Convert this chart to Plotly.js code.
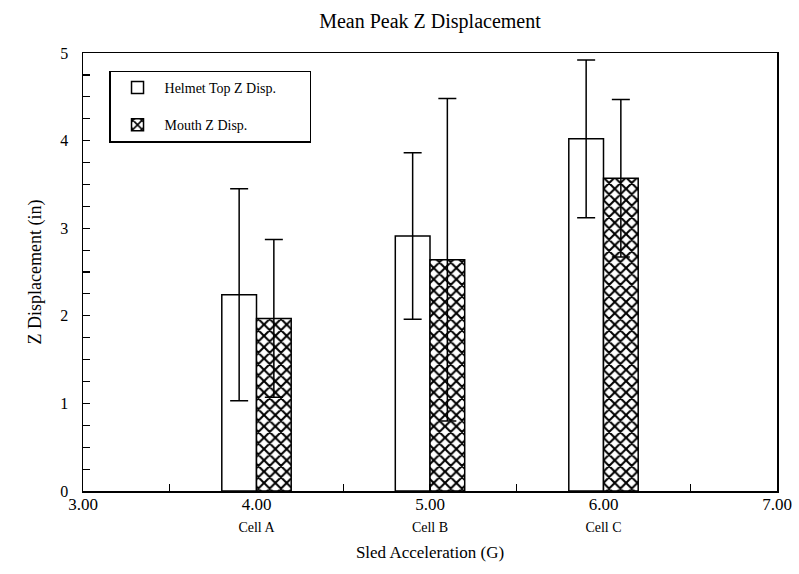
<!DOCTYPE html>
<html>
<head>
<meta charset="utf-8">
<script src="https://cdn.plot.ly/plotly-3.0.1.min.js"></script>
<style>html,body{margin:0;padding:0;background:#fff;}#chart{width:799px;height:574px;}</style>
</head>
<body>
<div id="chart"></div>
<script>
// Data
const accel = [4, 5, 6];
const cells = ["Cell A", "Cell B", "Cell C"];
const seriesNames = ["Helmet Top Z Disp.", "Mouth Z Disp."];
const helmetMean = [2.24, 2.91, 4.02];
const helmetErr = [1.21, 0.95, 0.90];
const mouthMean = [1.97, 2.64, 3.57];
const mouthErr = [0.90, 1.84, 0.90];
const xTickVals = [3, 3.5, 4, 4.5, 5, 5.5, 6, 6.5, 7];
const xTickMain = ["3.00", "", "4.00", "", "5.00", "", "6.00", "", "7.00"];

const serif = "Liberation Serif, Times New Roman, serif";
const legendPad = "\u00a0".repeat(8);

const xTickText = xTickVals.map((v, i) => {
  const idx = accel.indexOf(v);
  if (idx >= 0) return xTickMain[i] + "<br><span style='font-size:14px'>" + cells[idx] + "</span>";
  return xTickMain[i];
});

const traces = [
  {
    type: "bar", name: seriesNames[0] + legendPad, legendgroup: "a",
    x: accel, y: helmetMean, width: 0.2, offset: -0.2,
    marker: {color: "white", line: {color: "black", width: 1.5}},
    error_y: {type: "data", array: helmetErr, visible: true, color: "black", thickness: 1.5, width: 9}
  },
  {
    type: "bar", name: seriesNames[1], legendgroup: "b",
    x: accel, y: mouthMean, width: 0.2, offset: 0,
    marker: {color: "white", line: {color: "black", width: 1.5},
      pattern: {shape: "x", fgcolor: "black", bgcolor: "white", size: 8, solidity: 0.45}},
    error_y: {type: "data", array: mouthErr, visible: true, color: "black", thickness: 1.5, width: 9}
  }
];

const layout = {
  width: 799, height: 574,
  margin: {l: 83, r: 22, t: 53, b: 83},
  paper_bgcolor: "white", plot_bgcolor: "white",
  font: {family: serif, color: "black", size: 14},
  title: {text: "Mean Peak Z Displacement", font: {family: serif, size: 20, color: "black"}, x: 0.5, xref: "paper", y: 0.963, yanchor: "middle"},
  showlegend: true,
  legend: {x: 0.0375, y: 0.96, xanchor: "left", yanchor: "top", bgcolor: "white",
    bordercolor: "black", borderwidth: 1.5, font: {family: serif, size: 14, color: "black"},
    tracegroupgap: 16, traceorder: "grouped", itemwidth: 44},
  xaxis: {
    range: [3, 7], tickmode: "array", tickvals: xTickVals, ticktext: xTickText,
    ticks: "inside", ticklen: 7, tickwidth: 1.2, tickcolor: "black",
    showline: true, linecolor: "black", linewidth: 1.5, mirror: true,
    showgrid: false, zeroline: false, tickfont: {family: serif, size: 17, color: "black"},
    ticklabelstandoff: -3,
    title: {text: "Sled Acceleration (G)", font: {family: serif, size: 17, color: "black"}, standoff: 12}
  },
  yaxis: {
    range: [0, 5], dtick: 1, tick0: 0,
    ticks: "inside", ticklen: 7, tickwidth: 1.2, tickcolor: "black",
    minor: {dtick: 0.25, ticks: "inside", ticklen: 7, tickwidth: 1.2, tickcolor: "black", showgrid: false},
    showline: true, linecolor: "black", linewidth: 1.5, mirror: true,
    showgrid: false, zeroline: false, tickfont: {family: serif, size: 16, color: "black"},
    ticklabelstandoff: 10,
    title: {text: "Z Displacement (in)", font: {family: serif, size: 18, color: "black"}, standoff: 14}
  }
};

Plotly.newPlot("chart", traces, layout, {displayModeBar: false, staticPlot: true});
</script>
</body>
</html>
